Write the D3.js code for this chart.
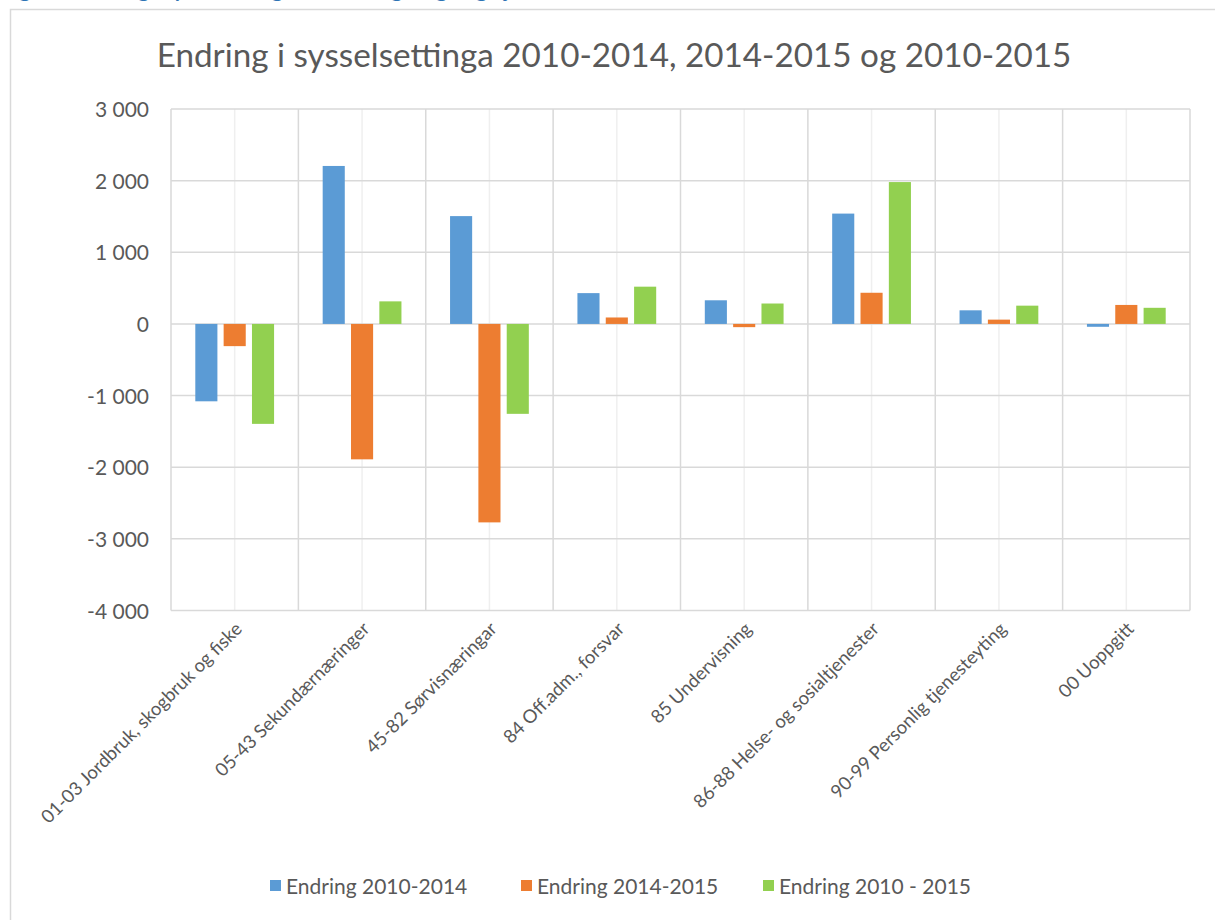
<!DOCTYPE html>
<html><head><meta charset="utf-8">
<script src="https://cdn.jsdelivr.net/npm/d3@7"></script>
<style>
html,body{margin:0;padding:0;background:#fff;}
svg{display:block;}
</style></head>
<body>
<svg id="chart" width="1215" height="920"></svg>
<script>
const categories = [
  "01-03 Jordbruk, skogbruk og fiske",
  "05-43 Sekundærnæringer",
  "45-82 Sørvisnæringar",
  "84 Off.adm., forsvar",
  "85 Undervisning",
  "86-88 Helse- og sosialtjenester",
  "90-99 Personlig tjenesteyting",
  "00 Uoppgitt"
];
const seriesNames = ["Endring 2010-2014", "Endring 2014-2015", "Endring 2010 - 2015"];
const endring2010_2014 = [-1080, 2205, 1505, 430, 330, 1540, 190, -40];
const endring2014_2015 = [-310, -1890, -2770, 90, -45, 435, 60, 265];
const endring2010_2015 = [-1395, 315, -1255, 520, 285, 1980, 255, 225];
const seriesColors = ["#5B9BD5", "#ED7D31", "#92D050"];
const yTicks = [3000, 2000, 1000, 0, -1000, -2000, -3000, -4000];
const titleText = "Endring i sysselsettinga 2010-2014, 2014-2015 og 2010-2015";

const seriesValues = [endring2010_2014, endring2014_2015, endring2010_2015];

const svg = d3.select("#chart");
const font = "Lato, 'Open Sans', sans-serif";

// Caption above chart (cut off at top)
svg.append("text").attr("x", 2).attr("y", -3)
  .attr("fill", "#2E74B5").attr("font-family", font).attr("font-size", 21).attr("font-weight", "bold")
  .text("Figur 9: Endring i sysselsetting etter næring, Sogn og Fjordane, 2010-2015");

// Chart frame
svg.append("rect").attr("x", 10.5).attr("y", 9.5).attr("width", 1220).attr("height", 930)
  .attr("fill", "#fff").attr("stroke", "#d9d9d9").attr("stroke-width", 1.5);

const pLeft = 171, pRight = 1190, pTop = 109, pBottom = 610.5;

const x = d3.scaleBand().domain(categories).range([pLeft, pRight]).padding(0);
const xi = d3.scaleBand().domain(seriesNames).range([-42.5, 42.5]).paddingInner(0.22).paddingOuter(0.11);
const y = d3.scaleLinear().domain([-4000, 3000]).range([pBottom, pTop]);

const loc = d3.formatLocale({decimal: ",", thousands: " ", grouping: [3], currency: ["", ""], minus: "-"});
const fmt = loc.format(",d");

// minor vertical gridlines at category centers
svg.append("g").selectAll("line").data(categories).join("line")
  .attr("x1", d => x(d) + x.bandwidth() / 2).attr("x2", d => x(d) + x.bandwidth() / 2)
  .attr("y1", pTop).attr("y2", pBottom)
  .attr("stroke", "#efefef").attr("stroke-width", 1.5);

// major vertical gridlines at category boundaries
const bounds = categories.map(d => x(d)).concat([pRight]);
svg.append("g").selectAll("line").data(bounds).join("line")
  .attr("x1", d => d).attr("x2", d => d).attr("y1", pTop).attr("y2", pBottom)
  .attr("stroke", "#d9d9d9").attr("stroke-width", 1.5);

// horizontal gridlines
svg.append("g").selectAll("line").data(yTicks).join("line")
  .attr("x1", pLeft).attr("x2", pRight).attr("y1", d => y(d)).attr("y2", d => y(d))
  .attr("stroke", "#d9d9d9").attr("stroke-width", 1.5);

// y axis labels via d3 axis
const yAxis = svg.append("g").attr("transform", `translate(${pLeft - 22},0)`)
  .call(d3.axisLeft(y).tickValues(yTicks).tickFormat(fmt).tickSize(0));
yAxis.select(".domain").remove();
yAxis.selectAll("text").attr("font-family", font).attr("font-size", 21).attr("fill", "#595959").attr("dy", "0.36em").attr("x", 0);

// bars
const flat = [];
categories.forEach((c, i) => seriesNames.forEach((s, j) => flat.push({c, s, j, v: seriesValues[j][i]})));
svg.append("g").selectAll("rect").data(flat).join("rect")
  .attr("x", d => x(d.c) + x.bandwidth() / 2 + xi(d.s))
  .attr("width", xi.bandwidth())
  .attr("y", d => Math.min(y(d.v), y(0)))
  .attr("height", d => Math.abs(y(d.v) - y(0)))
  .attr("fill", d => seriesColors[d.j]);

// x axis labels
const xAxis = svg.append("g").attr("transform", `translate(0,${pBottom})`)
  .call(d3.axisBottom(x).tickSize(0));
xAxis.select(".domain").remove();
xAxis.selectAll("text")
  .attr("font-family", font).attr("font-size", 18.5).attr("fill", "#595959")
  .attr("text-anchor", "end")
  .attr("transform", "translate(4,15) rotate(-45)")
  .attr("dy", "0.35em").attr("y", 0).attr("x", 0);

// title
const title = svg.append("text").attr("x", 614).attr("y", 67).attr("text-anchor", "middle")
  .attr("font-family", font).attr("font-size", 32).attr("fill", "#595959").text(titleText);
const tw = title.node().getComputedTextLength();
title.attr("font-size", 32 * 915 / tw);

// legend
const legX = [270, 521, 763];
const leg = svg.append("g").selectAll("g").data(seriesNames).join("g")
  .attr("transform", (d, i) => `translate(${legX[i]},0)`);
leg.append("rect").attr("x", 0).attr("y", 880).attr("width", 11).attr("height", 11)
  .attr("fill", (d, i) => seriesColors[i]);
leg.append("text").attr("x", 16).attr("y", 894).attr("font-family", font).attr("font-size", 21)
  .attr("fill", "#595959").text(d => d);
</script>
</body></html>
